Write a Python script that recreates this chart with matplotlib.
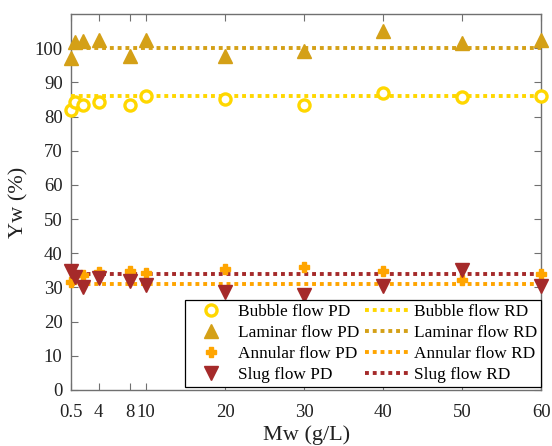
import matplotlib
matplotlib.use("Agg")
import matplotlib.pyplot as plt

plt.rcParams["font.family"] = ["Liberation Serif", "DejaVu Serif"]

# Mw concentrations (g/L)
mw = [0.5, 1, 2, 4, 8, 10, 20, 30, 40, 50, 60]

# Yw (%) predicted (PD) per flow regime
bubble_pd = [81.8, 84.2, 83.4, 84.2, 83.4, 86.0, 85.0, 83.5, 86.8, 85.7, 86.0]
laminar_pd = [97.2, 101.7, 102.0, 102.5, 97.7, 102.5, 97.7, 99.2, 104.9, 101.5, 102.5]
annular_pd = [31.5, 33.5, 33.5, 34.4, 34.7, 34.2, 35.4, 36.0, 34.9, 32.3, 33.9]
slug_pd = [34.8, 33.2, 30.0, 32.7, 31.8, 30.8, 28.8, 27.9, 30.3, 35.2, 30.3]

# reference (RD) levels
bubble_rd = 86.0
laminar_rd = 100.0
annular_rd = 31.0
slug_rd = 34.0

yticks = [0, 10, 20, 30, 40, 50, 60, 70, 80, 90, 100]
xticks = [0.5, 4, 8, 10, 20, 30, 40, 50, 60]
xtick_labels = ["0.5", "4", "8", "10", "20", "30", "40", "50", "60"]

c_bubble = "#FFD700"
c_laminar = "#D4A017"
c_annular = "#FFA500"
c_slug = "#A52A2A"

fig = plt.figure(figsize=(5.52, 4.46), dpi=100)
ax = fig.add_axes([0.1286, 0.1256, 0.852, 0.843])

dot = (0, (1, 1))
x_span = [mw[0], mw[-1]]

h1, = ax.plot(mw, bubble_pd, "o", ms=8, mfc="white", mec=c_bubble, mew=2.4,
              label="Bubble flow PD", zorder=4, clip_on=False)
h2, = ax.plot(mw, laminar_pd, "^", ms=10.5, color=c_laminar, mec=c_laminar,
              label="Laminar flow PD", zorder=4, clip_on=False)
h3, = ax.plot(mw, annular_pd, "P", ms=7, color=c_annular, mec=c_annular,
              label="Annular flow PD", zorder=4, clip_on=False)
h4, = ax.plot(mw, slug_pd, "v", ms=10.5, color=c_slug, mec=c_slug,
              label="Slug flow PD", zorder=4, clip_on=False)

h5, = ax.plot(x_span, [bubble_rd] * 2, color=c_bubble, lw=2.8, ls=dot,
              label="Bubble flow RD", zorder=3)
h6, = ax.plot(x_span, [laminar_rd] * 2, color=c_laminar, lw=2.8, ls=dot,
              label="Laminar flow RD", zorder=3)
h7, = ax.plot(x_span, [annular_rd] * 2, color=c_annular, lw=2.8, ls=dot,
              label="Annular flow RD", zorder=3)
h8, = ax.plot(x_span, [slug_rd] * 2, color=c_slug, lw=2.8, ls=dot,
              label="Slug flow RD", zorder=3)

ax.set_xlim(0.5, 60)
ax.set_ylim(0, 110)
ax.set_xticks(xticks)
ax.set_xticklabels(xtick_labels)
ax.set_yticks(yticks)

for sp in ax.spines.values():
    sp.set_color("#707070")
    sp.set_linewidth(1.0)
ax.tick_params(direction="in", top=True, right=True, length=5,
               color="#707070", labelsize=13.5, labelcolor="#222222", pad=6)
ax.tick_params(axis="x", pad=10)

ax.set_xlabel("Mw (g/L)", fontsize=16, color="#222222", labelpad=3)
ax.set_ylabel("Yw (%)", fontsize=16, color="#222222", labelpad=4)

leg = ax.legend(handles=[h1, h2, h3, h4, h5, h6, h7, h8], ncol=2,
                loc="lower right", bbox_to_anchor=(1.0, 0.008),
                fontsize=12.4, frameon=True, fancybox=False, framealpha=1,
                edgecolor="black", handlelength=2.5, handletextpad=0.35,
                columnspacing=0.3, labelspacing=0.28, borderpad=0.25,
                borderaxespad=0.0)
leg.get_frame().set_linewidth(0.9)
leg.set_zorder(5)

fig.savefig("out.png", dpi=100)
